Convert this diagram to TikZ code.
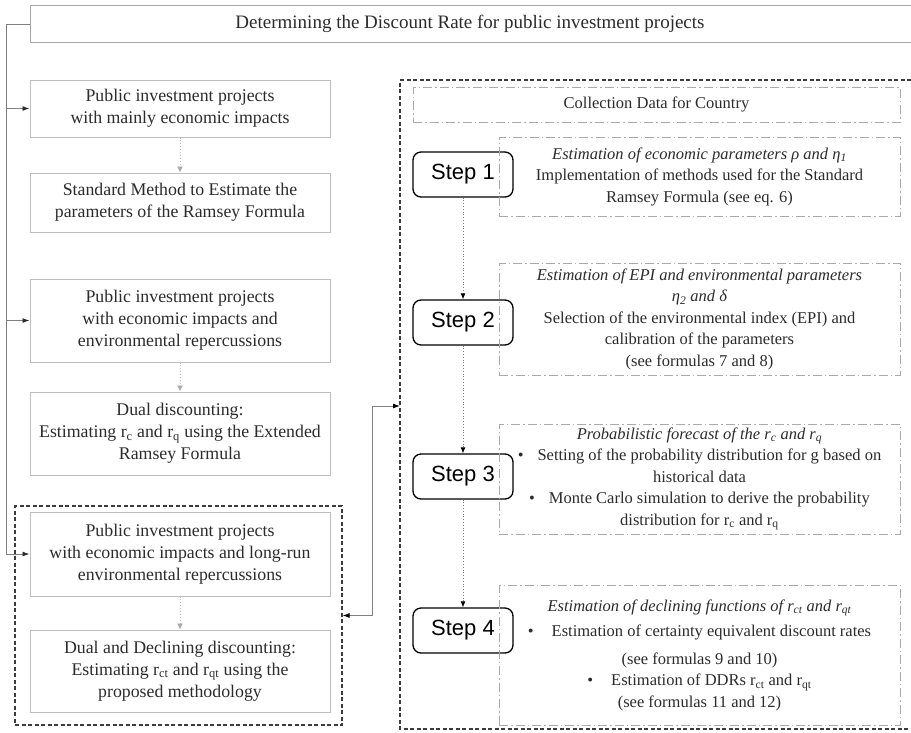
\documentclass[tikz,border=0pt]{standalone}
\usepackage{fontspec}
\setmainfont{Liberation Serif}
\newfontfamily\stepfont{Liberation Sans}
\usetikzlibrary{arrows.meta}

\definecolor{txtgray}{HTML}{2B2B2B}
\definecolor{boxgray}{HTML}{BEBEBE}
\definecolor{descgray}{HTML}{AAAAAA}
\definecolor{grpgray}{HTML}{3C3C3C}
\definecolor{wiregray}{HTML}{808080}

\begin{document}
\begin{tikzpicture}[x=1pt,y=-1pt,line cap=butt,
    every node/.style={font=\fontsize{16.5}{21.5}\selectfont,text=txtgray},
    leftbox/.style={draw=boxgray,line width=1pt,minimum width=300,minimum height=#1,align=center,inner sep=2pt,font=\fontsize{17.8}{22}\selectfont},
    descbox/.style={draw=descgray,line width=0.8pt,dash pattern=on 9pt off 3pt on 1.5pt off 3pt,minimum width=401,align=center,inner sep=2pt},
    stepbox/.style={draw=black,line width=1.3pt,rounded corners=8pt,minimum width=100,minimum height=45,font=\stepfont\fontsize{22}{26}\selectfont,text=black},
    groupline/.style={draw=grpgray,line width=1.2pt,dash pattern=on 4pt off 2.5pt},
    spinearrow/.style={draw=wiregray,line width=0.9pt,-{Latex[length=7pt,width=5pt,color=txtgray]}},
    softarrow/.style={draw=boxgray,line width=0.9pt,dotted,-{Latex[length=6pt,width=6pt,color=descgray]}},
    steparrow/.style={draw=wiregray,line width=0.8pt,dotted,-{Latex[length=6pt,width=5pt,color=black]}},
    linkline/.style={draw=wiregray,line width=0.9pt,{Latex[length=7pt,width=5pt,color=black]}-{Latex[length=7pt,width=5pt,color=black]}}]
  \useasboundingbox (0,0) rectangle (911,732);

  % Tunables
  \def\lx{180}      % x centre of the left boxes
  \def\sx{463}      % x centre of the step boxes
  \def\dx{699.5}    % x centre of the description boxes

  % Helper macro for one step: (number, step_y, desc_y, desc_height, desc_text)
  \newcommand{\stagerow}[5]{%
    \node[stepbox] (step#1) at (\sx,#2) {Step #1};
    \node[descbox,minimum height=#4] (desc#1) at (\dx,#3) {#5};
  }

  % Title (open on the right)
  \node[font=\fontsize{19}{23}\selectfont] (title) at (470,23.5) {Determining the Discount Rate for public investment projects};
  \draw[draw=wiregray!70,line width=1pt] (911,5) -- (30,5) -- (30,42) -- (911,42);
  \coordinate (tleft) at (30,24);
  \coordinate (spine) at (6,24);

  % Left column
  \node[leftbox=57] (econ) at (\lx,108.5) {Public investment projects\\with mainly economic impacts};
  \node[leftbox=59] (ramsey) at (\lx,202.5) {Standard Method to Estimate the\\parameters of the Ramsey Formula};
  \node[leftbox=83] (envproj) at (\lx,320.5) {Public investment projects\\with economic impacts and\\environmental repercussions};
  \node[leftbox=83] (dual) at (\lx,433.5) {Dual discounting:\\Estimating r\textsubscript{c} and r\textsubscript{q} using the Extended\\Ramsey Formula};
  \node[leftbox=84] (longrun) at (\lx,554) {Public investment projects\\with economic impacts and long-run\\environmental repercussions};
  \node[leftbox=82] (ddr) at (\lx,671) {Dual and Declining discounting:\\Estimating r\textsubscript{ct} and r\textsubscript{qt} using the\\proposed methodology};
  \node[groupline,minimum width=327,minimum height=219] (ddgroup) at (178.5,615.5) {};

  \draw[draw=wiregray,line width=0.9pt] (tleft) -- (spine) -- (spine |- econ.west);
  \draw[spinearrow] (spine |- econ.west) -- (spine |- longrun.west) -- (longrun.west);
  \draw[spinearrow] (spine |- econ.west) -- (econ.west);
  \draw[spinearrow] (spine |- envproj.west) -- (envproj.west);
  \foreach \a/\b in {econ/ramsey,envproj/dual,longrun/ddr}
    \draw[softarrow] (\a) -- (\b);

  % Right column
  \draw[groupline] (911,80) -- (400,80) -- (400,729) -- (911,729);
  \coordinate (rgin) at (400,406);
  \node[descbox,minimum width=487,minimum height=35] (collect) at (656.5,104.5) {Collection Data for Country};

  \stagerow{1}{174.5}{176.5}{79}{\textit{Estimation of economic parameters ρ and η\textsubscript{1}}\\Implementation of methods used for the Standard\\Ramsey Formula (see eq. 6)}
  \stagerow{2}{322.5}{319}{112}{\textit{Estimation of EPI and environmental parameters}\\\textit{η\textsubscript{2} and δ}\\Selection of the environmental index (EPI) and\\calibration of the parameters\\(see formulas 7 and 8)}
  \stagerow{3}{476.5}{479}{110}{\textit{Probabilistic forecast of the r\textsubscript{c} and r\textsubscript{q}}\\\textbullet\hspace{14pt}Setting of the probability distribution for g based on\\historical data\\\textbullet\hspace{14pt}Monte Carlo simulation to derive the probability\\distribution for r\textsubscript{c} and r\textsubscript{q}}
  \stagerow{4}{630.5}{655}{140}{\textit{Estimation of declining functions of r\textsubscript{ct} and r\textsubscript{qt}}\\[4pt]\textbullet\hspace{18pt}Estimation of certainty equivalent discount rates\\[6pt](see formulas 9 and 10)\\\textbullet\hspace{18pt}Estimation of DDRs r\textsubscript{ct} and r\textsubscript{qt}\\(see formulas 11 and 12)}

  \foreach \a/\b in {1/2,2/3,3/4}
    \draw[steparrow] (step\a) -- (step\b);

  % Link between the two columns
  \draw[linkline] (ddgroup.east) -- ++(30,0) |- (rgin);
\end{tikzpicture}
\end{document}
